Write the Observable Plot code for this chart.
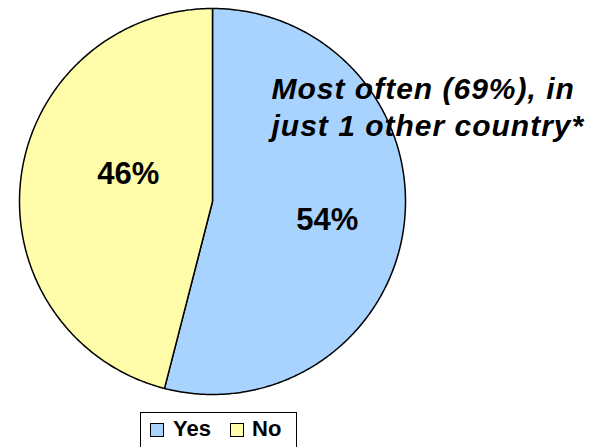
<!DOCTYPE html>
<html>
<head>
<meta charset="utf-8">
<script src="https://cdn.jsdelivr.net/npm/d3@7"></script>
<script src="https://cdn.jsdelivr.net/npm/@observablehq/plot@0.6"></script>
<style>
  html, body { margin: 0; padding: 0; background: #fff; }
  #wrap { width: 598px; height: 447px; overflow: hidden; position: relative; font-family: "Liberation Sans", Arial, sans-serif; }
  #legend { position: absolute; left: 140px; top: 412px; width: 157px; height: 50px; border: 1px solid #000; box-sizing: border-box; }
  .sw { position: absolute; top: 10px; width: 14px; height: 14px; border: 1px solid #000; box-sizing: border-box; }
  .lb { position: absolute; top: 4px; font-weight: bold; font-size: 22px; color: #000; line-height: 24px; }
</style>
</head>
<body>
<div id="wrap"></div>
<script>
const categories = ["Yes", "No"];
const values = [54, 46];
const colors = ["#A9D3FF", "#FFFCAA"];
const annotationLines = ["Most often (69%), in", "just 1 other country*"];

const W = 598, H = 410;
const cx = 212, cy = 201, R = 193;

const data = categories.map((c, i) => ({category: c, value: values[i]}));
const arcs = d3.pie().sort(null).value(d => d.value)(data);

// sample arc outlines (geometry only)
const pts = [];
for (const a of arcs) {
  const n = Math.max(2, Math.ceil((a.endAngle - a.startAngle) / 0.01));
  pts.push({k: a.data.category, x: 0, y: 0});
  for (let i = 0; i <= n; i++) {
    const t = a.startAngle + (a.endAngle - a.startAngle) * i / n;
    pts.push({k: a.data.category, x: Math.sin(t), y: Math.cos(t)});
  }
  pts.push({k: a.data.category, x: 0, y: 0});
}

const labelOpts = [{r: 0.6}, {r: 0.44}];
const labels = arcs.map((a, i) => {
  const m = (a.startAngle + a.endAngle) / 2;
  return {x: labelOpts[i].r * Math.sin(m), y: labelOpts[i].r * Math.cos(m), text: a.data.value + "%"};
});

const chart = Plot.plot({
  width: W, height: H,
  margin: 0,
  x: {domain: [-cx / R, (W - cx) / R], axis: null},
  y: {domain: [-(H - cy) / R, cy / R], axis: null},
  color: {domain: categories, range: colors},
  style: {fontFamily: "'Liberation Sans', Arial, sans-serif", background: "white"},
  marks: [
    Plot.line(pts, {x: "x", y: "y", z: "k", fill: "k", stroke: "#000", strokeWidth: 1.5, curve: "linear"}),
    Plot.text(labels.slice(0,1), {x: "x", y: "y", dy: 4, text: "text", fontSize: 31, fontWeight: "bold", fill: "#000"}),
    Plot.text(labels.slice(1), {x: "x", y: "y", dy: -17, text: "text", fontSize: 31, fontWeight: "bold", fill: "#000"}),
    Plot.text([annotationLines.join("\n")], {frameAnchor: "top-left", dx: 271, dy: 72, text: d => d, textAnchor: "start", lineAnchor: "top", lineHeight: 1.23, fontSize: 30, fontWeight: "bold", fontStyle: "italic", fill: "#000"})
  ]
});

d3.select(chart).selectAll("text").filter(function() { return this.textContent.startsWith("Most"); })
  .style("letter-spacing", "1px");

const wrap = document.getElementById("wrap");
wrap.appendChild(chart);
const lg = document.createElement("div");
lg.id = "legend";
lg.innerHTML = `
  <div class="sw" style="left:9px;background:${colors[0]}"></div>
  <div class="lb" style="left:32px">${categories[0]}</div>
  <div class="sw" style="left:89px;background:${colors[1]}"></div>
  <div class="lb" style="left:111px">${categories[1]}</div>`;
wrap.appendChild(lg);
</script>
</body>
</html>
